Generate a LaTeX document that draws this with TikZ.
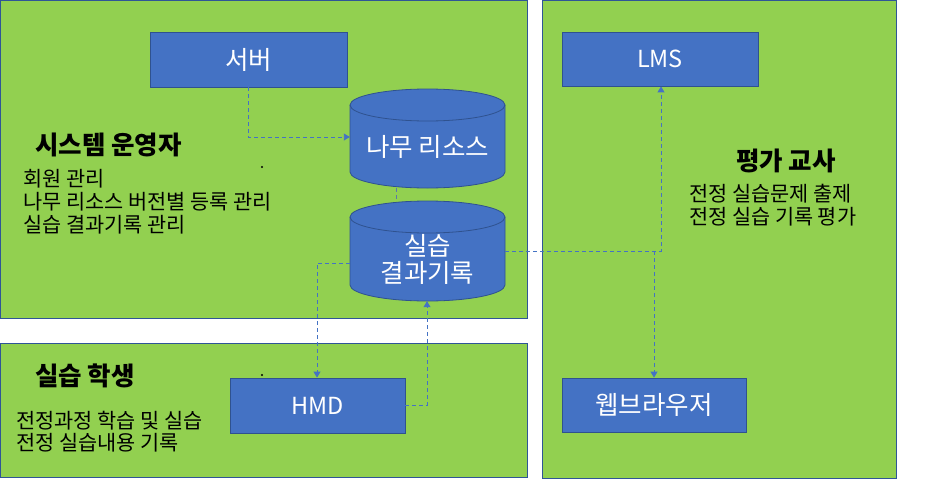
\documentclass[tikz,border=0pt]{standalone}
\usepackage{fontspec}
\setmainfont{Noto Sans CJK KR}
\usetikzlibrary{arrows.meta}
\definecolor{panelgreen}{HTML}{92D050}
\definecolor{panelline}{HTML}{2F5597}
\definecolor{boxblue}{HTML}{4472C4}
\definecolor{boxline}{HTML}{2F528F}
\tikzset{
  panel/.style={fill=panelgreen,draw=panelline,line width=0.8pt},
  bluebox/.style={fill=boxblue,draw=boxline,line width=0.8pt,text=white,font=\fontsize{25.5}{29}\selectfont,inner sep=0pt},
  latinbox/.style={bluebox,font=\fontsize{23.5}{27}\selectfont},
  cyltext/.style={text=white,font=\fontsize{25.5}{27}\selectfont,align=center,inner sep=0pt},
  cylshape/.style={fill=boxblue,draw=boxline,line width=0.8pt},
  head/.style={font=\fontsize{25.5}{29}\selectfont\bfseries,anchor=west,inner sep=0pt},
  listtext/.style={font=\fontsize{20.8}{23}\selectfont,anchor=base west,align=left,inner sep=0pt},
  conn/.style={draw=boxblue,line width=0.9pt,dash pattern=on 4pt off 3pt,-{Triangle[width=7pt,length=6pt]}},
  plainconn/.style={draw=boxblue!60!gray,line width=0.9pt,dash pattern=on 4pt off 3pt}
}
\newcommand\mycyl[3]{%
  \path[cylshape] (#1-77.5,#2+16) -- (#1-77.5,#3-16)
    arc[start angle=180,end angle=360,x radius=77.5pt,y radius=16pt]
    -- (#1+77.5,#2+16)
    arc[start angle=0,end angle=180,x radius=77.5pt,y radius=16pt] -- cycle;
  \draw[boxline,line width=0.8pt] (#1-77.5,#2+16)
    arc[start angle=180,end angle=360,x radius=77.5pt,y radius=16pt];
}
\begin{document}
\begin{tikzpicture}[x=1pt,y=-1pt]
\useasboundingbox (0,0) rectangle (933,479);
% panels
\path[panel] (0.5,0.5) rectangle (527,318);
\path[panel] (0.5,343) rectangle (527,477.5);
\path[panel] (542,0.5) rectangle (896,478);
% boxes
\node[bluebox,minimum width=197,minimum height=55] (server) at (248.5,59.5) {서버};
\node[latinbox,minimum width=196,minimum height=54] (lms) at (660,59) {LMS};
\node[latinbox,minimum width=175,minimum height=55] (hmd) at (317.5,405.5) {HMD};
\node[bluebox,minimum width=184,minimum height=54] (web) at (654,405) {웹브라우저};
% cylinders
\mycyl{427.5}{89}{188}
\mycyl{427.5}{201}{301}
\node[minimum width=155,minimum height=99,inner sep=0pt] (res) at (427.5,138.5) {};
\node[cyltext] (restext) at (427.5,147) {나무 리소스};
\node[minimum width=155,minimum height=100,inner sep=0pt] (rec) at (427.5,251) {};
\node[cyltext] (rectext) at (427.5,259) {실습\\결과기록};
% texts
\node[head] (h1) at (35,145) {시스템 운영자};
\node[listtext] (l1) at (23,232.5) {회원 관리\\나무 리소스 버전별 등록 관리\\실습 결과기록 관리};
\node[head] (h2) at (35,376) {실습 학생};
\node[listtext,font=\fontsize{20.8}{21.5}\selectfont] (l2) at (16,450) {전정과정 학습 및 실습\\전정 실습내용 기록};
\node[head] (h3) at (736,161) {평가 교사};
\node[listtext] (l3) at (689,224.5) {전정 실습문제 출제\\전정 실습 기록 평가};
% small dots
\fill[black] (262,167) circle[radius=1.1pt];
\fill[black] (262,375) circle[radius=1.1pt];
% connectors
\coordinate (c1) at (248,137);
\draw[conn] (server.south -| c1) -- (c1) -- (res.west |- c1);
\coordinate (c2) at (396,188);
\coordinate (c3) at (396,201);
\draw[plainconn] (c2) -- (c3);
\coordinate (c4) at (317,263);
\draw[conn] (rec.west |- c4) -- (c4) -- (hmd.north -| c4);
\coordinate (c5) at (427,405);
\draw[conn] (hmd.east |- c5) -- (c5) -- (rec.south -| c5);
\coordinate (c6) at (661,251);
\draw[conn] (rec.east |- c6) -- (c6) -- (lms.south -| c6);
\coordinate (c7) at (654,251);
\draw[conn] (c7) -- (web.north -| c7);
\end{tikzpicture}
\end{document}
